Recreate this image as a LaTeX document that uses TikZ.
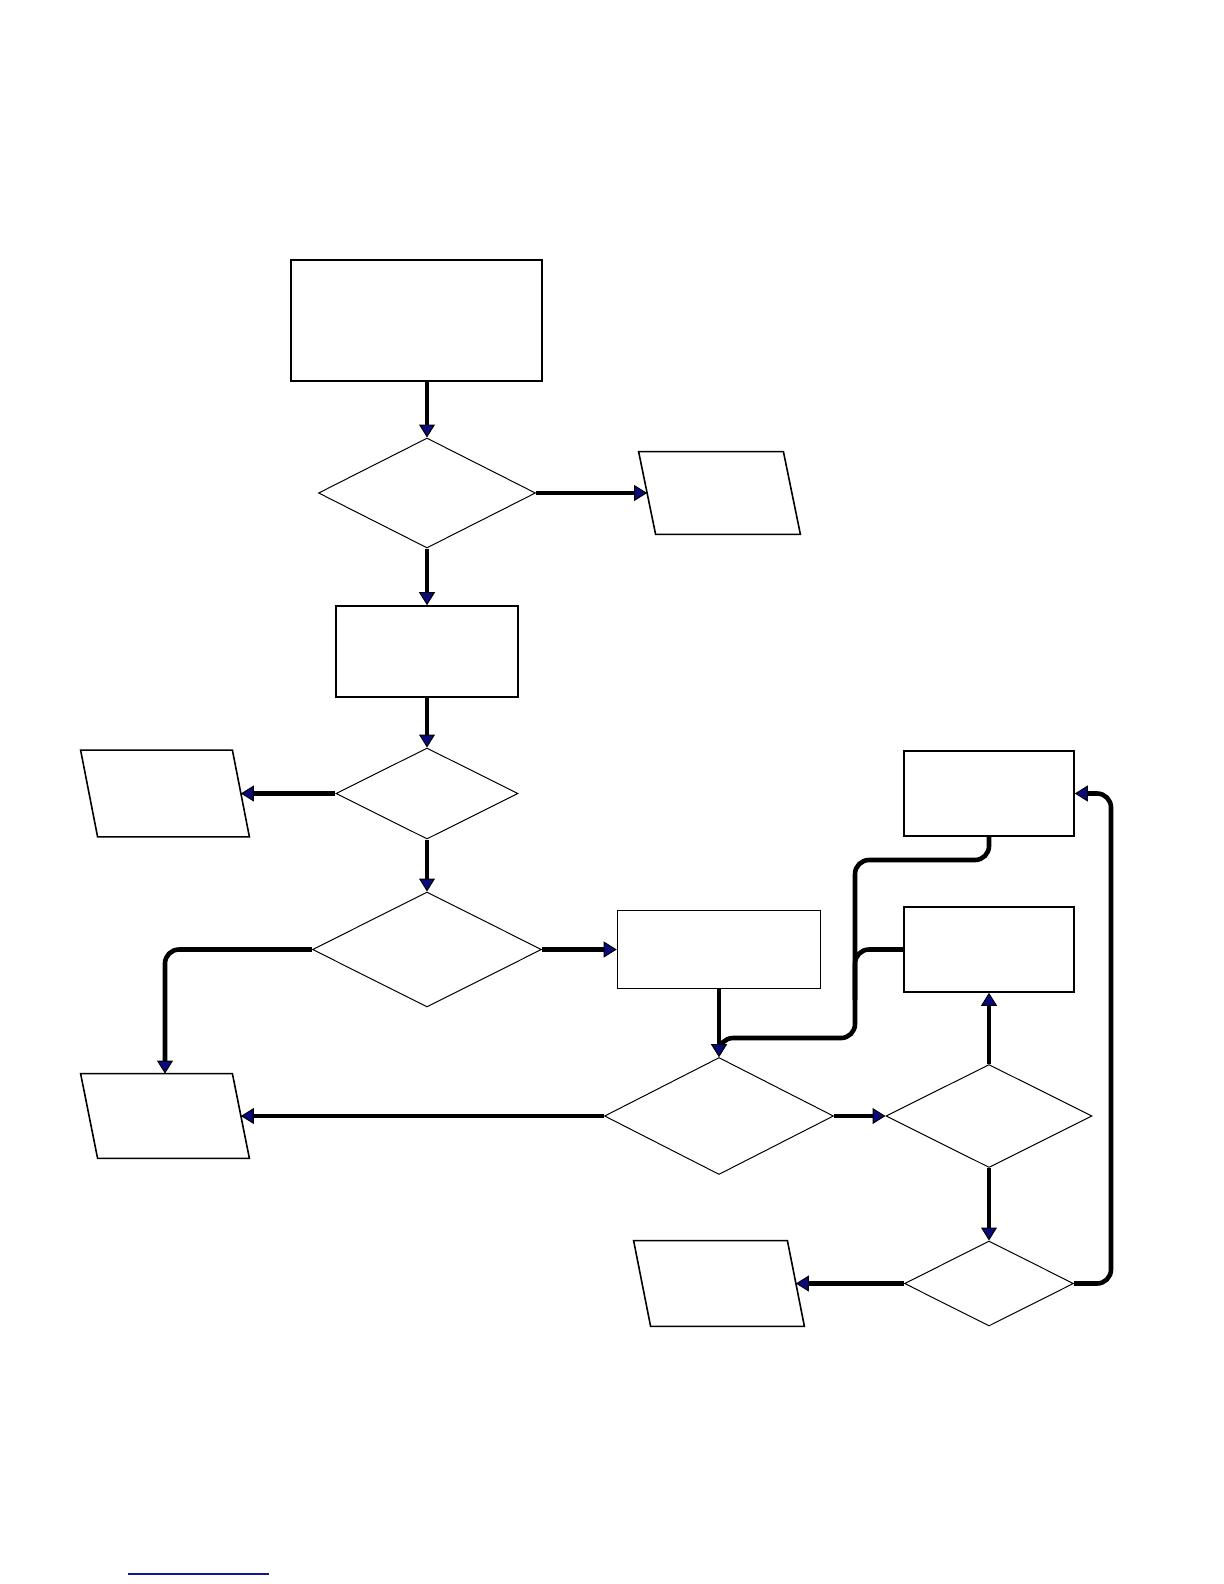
\documentclass[tikz,border=0pt]{standalone}
\usepackage{tikz}
\usetikzlibrary{arrows.meta, shapes.geometric}
\definecolor{tipblue}{RGB}{10,10,125}
\definecolor{linkblue}{RGB}{20,20,150}

\begin{document}
\begin{tikzpicture}[
      x=0.5pt, y=-0.5pt,
      >={Triangle[length=6.5pt, width=8pt, line width=0.5pt, fill=tipblue]},
      block/.style={rectangle, draw, line width=0.8pt, inner sep=0pt},
      decision/.style={diamond, draw, line width=0.5pt, inner sep=0pt},
      io/.style={rectangle, inner sep=0pt},
      flow/.style={->, line width=2.3pt, rounded corners=7pt},
      feeder/.style={line width=2.3pt, rounded corners=7pt}
    ]
    \useasboundingbox (0,0) rectangle (1224,1584);

    % main column
    \node[block, minimum width=125.5pt, minimum height=60.5pt] (start) at (416.5,320.5) {};
    \node[decision, minimum width=108.5pt, minimum height=55pt] (d1) at (427,493) {};
    \node[io, minimum width=72pt, minimum height=41pt] (p1) at (719.5,493) {};
    \node[block, minimum width=91pt, minimum height=45.5pt] (b2) at (427,651.5) {};
    \node[decision, minimum width=91pt, minimum height=45.5pt] (d2) at (427,793.5) {};
    \node[io, minimum width=75.5pt, minimum height=43pt] (p2) at (165,793.5) {};
    \node[decision, minimum width=114.5pt, minimum height=57.5pt] (d3) at (427,949.5) {};
    \node[io, minimum width=75.5pt, minimum height=42pt] (p3) at (165,1116) {};

    % right part
    \node[block, minimum width=101.5pt, minimum height=39pt] (b3) at (719,949.5) {};
    \node[decision, minimum width=114.5pt, minimum height=58.5pt] (d4) at (719,1116) {};
    \node[decision, minimum width=103pt, minimum height=51.5pt] (d5) at (989,1116) {};
    \node[block, minimum width=85pt, minimum height=42.5pt] (b4) at (989,793.5) {};
    \node[block, minimum width=85pt, minimum height=42.5pt] (b5) at (989,949.5) {};
    \node[decision, minimum width=84.5pt, minimum height=42.5pt] (d6) at (989,1283.5) {};
    \node[io, minimum width=76.5pt, minimum height=42.5pt] (p4) at (719,1283.5) {};

    % slanted outlines of the io nodes
    \foreach \p in {p1, p2, p3, p4}
      \draw[line width=0.8pt] ([xshift=-4.25pt]\p.north west) -- ([xshift=-4.25pt]\p.north east)
        -- ([xshift=4.25pt]\p.south east) -- ([xshift=4.25pt]\p.south west) -- cycle;

    \coordinate (merge) at (855,1000);
    \coordinate (back) at (1111,1283.5);

    \draw[flow] (start.south -| d1) -- (d1);
    \foreach \a/\b in {d1/p1, d1/b2, b2/d2, d2/p2, d2/d3, d3/b3, b3/d4,
                       d4/p3, d4/d5, d5/b5, d5/d6, d6/p4}
      \draw[flow] (\a) -- (\b);

    \draw[flow] (d3) -| (p3);
    \draw[flow] (b4) |- (855,860) |- (719,1038) -- (d4);
    \draw[feeder] (b5) -| (merge);
    \draw[flow] (d6) -- (back) |- (b4);

    \draw[linkblue, line width=1pt] (128,1574) -- (269,1574);
  \end{tikzpicture}
\end{document}
